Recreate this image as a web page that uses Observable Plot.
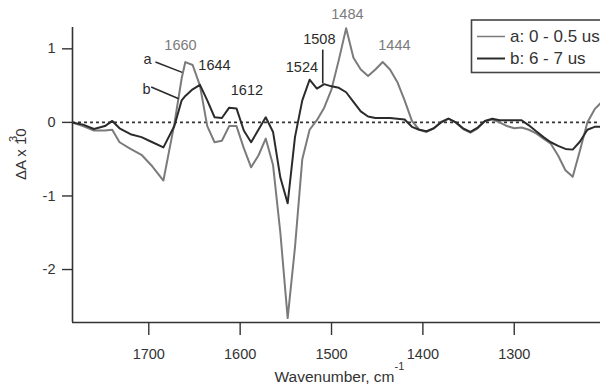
<!DOCTYPE html>
<html>
<head>
<meta charset="utf-8">
<script src="https://cdn.jsdelivr.net/npm/d3@7"></script>
<script src="https://cdn.jsdelivr.net/npm/@observablehq/plot@0.6"></script>
<style>
  html, body { margin: 0; padding: 0; background: #fff; overflow: hidden; }
  #chart { position: relative; width: 600px; height: 386px; }
</style>
</head>
<body>
<div id="chart"></div>
<script>
// Wavenumber grid (cm^-1)
const wavenumbers = [1784,1772,1760,1748,1740,1732,1720,1708,1696,1684,1672,1664,1660,1652,1644,1636,1628,1620,1612,1604,1596,1588,1580,1572,1564,1556,1548,1540,1532,1524,1516,1508,1500,1492,1484,1476,1468,1460,1452,1444,1436,1428,1420,1412,1404,1396,1388,1380,1372,1364,1356,1348,1340,1332,1324,1316,1308,1300,1292,1284,1276,1268,1260,1252,1244,1236,1228,1220,1212,1204];
// Series a: 0 - 0.5 us (gray)
const seriesA = [0,-0.05,-0.11,-0.11,-0.1,-0.27,-0.36,-0.44,-0.6,-0.79,-0.02,0.6,0.82,0.78,0.5,-0.05,-0.27,-0.25,-0.05,-0.05,-0.35,-0.61,-0.45,-0.22,-0.58,-1.5,-2.66,-1.7,-0.5,-0.1,0.03,0.2,0.45,0.85,1.28,0.88,0.72,0.63,0.72,0.82,0.72,0.55,0.3,0.02,-0.1,-0.13,-0.08,0.01,0.05,0.0,-0.09,-0.14,-0.08,0.02,0.04,0.0,-0.05,-0.08,-0.07,-0.1,-0.15,-0.22,-0.29,-0.45,-0.65,-0.74,-0.38,0.0,0.18,0.28];
// Series b: 6 - 7 us (dark)
const seriesB = [0,-0.03,-0.09,-0.05,0.02,-0.08,-0.16,-0.2,-0.27,-0.34,-0.05,0.3,0.36,0.45,0.51,0.3,0.07,0.06,0.2,0.19,-0.11,-0.27,-0.1,0.07,-0.13,-0.75,-1.1,-0.2,0.3,0.58,0.46,0.52,0.49,0.47,0.41,0.28,0.15,0.08,0.06,0.06,0.06,0.05,0.04,-0.06,-0.1,-0.12,-0.08,0.0,0.05,0.0,-0.08,-0.13,-0.07,0.02,0.05,0.03,0.03,0.03,0.03,-0.04,-0.12,-0.2,-0.27,-0.32,-0.36,-0.37,-0.26,-0.1,-0.06,-0.06];

const xDomain = [1783.5, 1205.6];
const yDomain = [-2.72, 1.29];
const xTicks = [1700, 1600, 1500, 1400, 1300];
const yTicks = [-2, -1, 0, 1];

// Peak annotations
const peakText = ["1660", "1644", "1612", "1524", "1508", "1484", "1444", "a", "b"];
const peakX = [1665.3, 1628.1, 1592.6, 1532.4, 1513.3, 1482.6, 1431.2, 1701.5, 1702.5];
const peakY = [1.046, 0.78, 0.435, 0.754, 1.128, 1.47, 1.046, 0.856, 0.45];
const peakSeries = ["a", "b", "b", "b", "b", "a", "a", "b", "b"];

// Leader lines
const leadX1 = [1692.7, 1697.4, 1509.6];
const leadY1 = [0.82, 0.48, 0.99];
const leadX2 = [1663.5, 1667.2, 1509.6];
const leadY2 = [0.68, 0.32, 0.53];

const seriesNames = ["a: 0 - 0.5 us", "b: 6 - 7 us"];
const grayColor = "#7b7b7b";
const darkColor = "#2b2b2b";

const dataA = wavenumbers.map((w, i) => ({w, v: seriesA[i]}));
const dataB = wavenumbers.map((w, i) => ({w, v: seriesB[i]}));
const peaks = peakText.map((t, i) => ({t, x: peakX[i], y: peakY[i], s: peakSeries[i]}));
const leads = leadX1.map((x1, i) => ({x1, y1: leadY1[i], x2: leadX2[i], y2: leadY2[i]}));

const plot = Plot.plot({
  width: 600,
  height: 386,
  marginLeft: 72,
  marginRight: 0,
  marginTop: 27,
  marginBottom: 64,
  style: {fontFamily: "'Liberation Sans', Arial, sans-serif", fontSize: "14px", color: "#333", background: "#fff"},
  x: {domain: xDomain},
  y: {domain: yDomain},
  marks: [
    Plot.ruleY([0], {stroke: "#333", strokeWidth: 1.6, strokeDasharray: "3,3"}),
    Plot.line(dataA, {x: "w", y: "v", stroke: grayColor, strokeWidth: 2, clip: true}),
    Plot.line(dataB, {x: "w", y: "v", stroke: darkColor, strokeWidth: 2, clip: true}),
    Plot.link(leads, {x1: "x1", y1: "y1", x2: "x2", y2: "y2", stroke: darkColor, strokeWidth: 1.6}),
    Plot.text(peaks, {x: "x", y: "y", text: "t", fill: d => d.s === "a" ? grayColor : darkColor, fontSize: 14.5}),
    Plot.ruleX([xDomain[0]], {stroke: "#333", strokeWidth: 1.6}),
    Plot.ruleY([yDomain[0]], {stroke: "#333", strokeWidth: 1.6}),
    Plot.axisX({ticks: xTicks, tickSize: 13, tickPadding: 13, tickFormat: d => String(d), label: null, stroke: "#333", strokeWidth: 1.4, fontSize: 14.5}),
    Plot.axisY({ticks: yTicks, tickSize: 10, tickPadding: 7, tickFormat: d => String(d), label: null, stroke: "#333", strokeWidth: 1.4, fontSize: 14.5}),
    Plot.text(["ΔA x 10"], {frameAnchor: "left", dx: -51, dy: 5, rotate: -90, fontSize: 15, fill: "#333"}),
    Plot.text(["3"], {frameAnchor: "left", dx: -59, dy: -33, rotate: -90, fontSize: 11, fill: "#333"}),
    Plot.text(["Wavenumber, cm"], {frameAnchor: "bottom", dx: -2, dy: 59, fontSize: 15.5, fill: "#333"}),
    Plot.text(["-1"], {frameAnchor: "bottom", dx: 63, dy: 47, fontSize: 11, fill: "#333"})
  ]
});

document.getElementById("chart").appendChild(plot);

// Legend box (top right, partly beyond the edge as in the original)
const svg = d3.select(plot);
const lg = svg.append("g")
  .attr("font-family", "'Liberation Sans', Arial, sans-serif")
  .attr("font-size", 17)
  .attr("text-anchor", "start")
  .attr("fill", "#333");
lg.append("rect").attr("x", 471.5).attr("y", 20).attr("width", 150).attr("height", 52.5)
  .attr("fill", "#fff").attr("stroke", "#444").attr("stroke-width", 1.6);
const legendColors = [grayColor, darkColor];
const legendYs = [36.5, 58.5];
seriesNames.forEach((name, i) => {
  lg.append("line").attr("x1", 477).attr("x2", 505).attr("y1", legendYs[i]).attr("y2", legendYs[i])
    .attr("stroke", legendColors[i]).attr("stroke-width", i === 0 ? 1.5 : 2);
  lg.append("text").attr("x", 510).attr("y", legendYs[i]).attr("dy", "0.35em")
    .attr("text-anchor", "start").text(name);
});
</script>
</body>
</html>
